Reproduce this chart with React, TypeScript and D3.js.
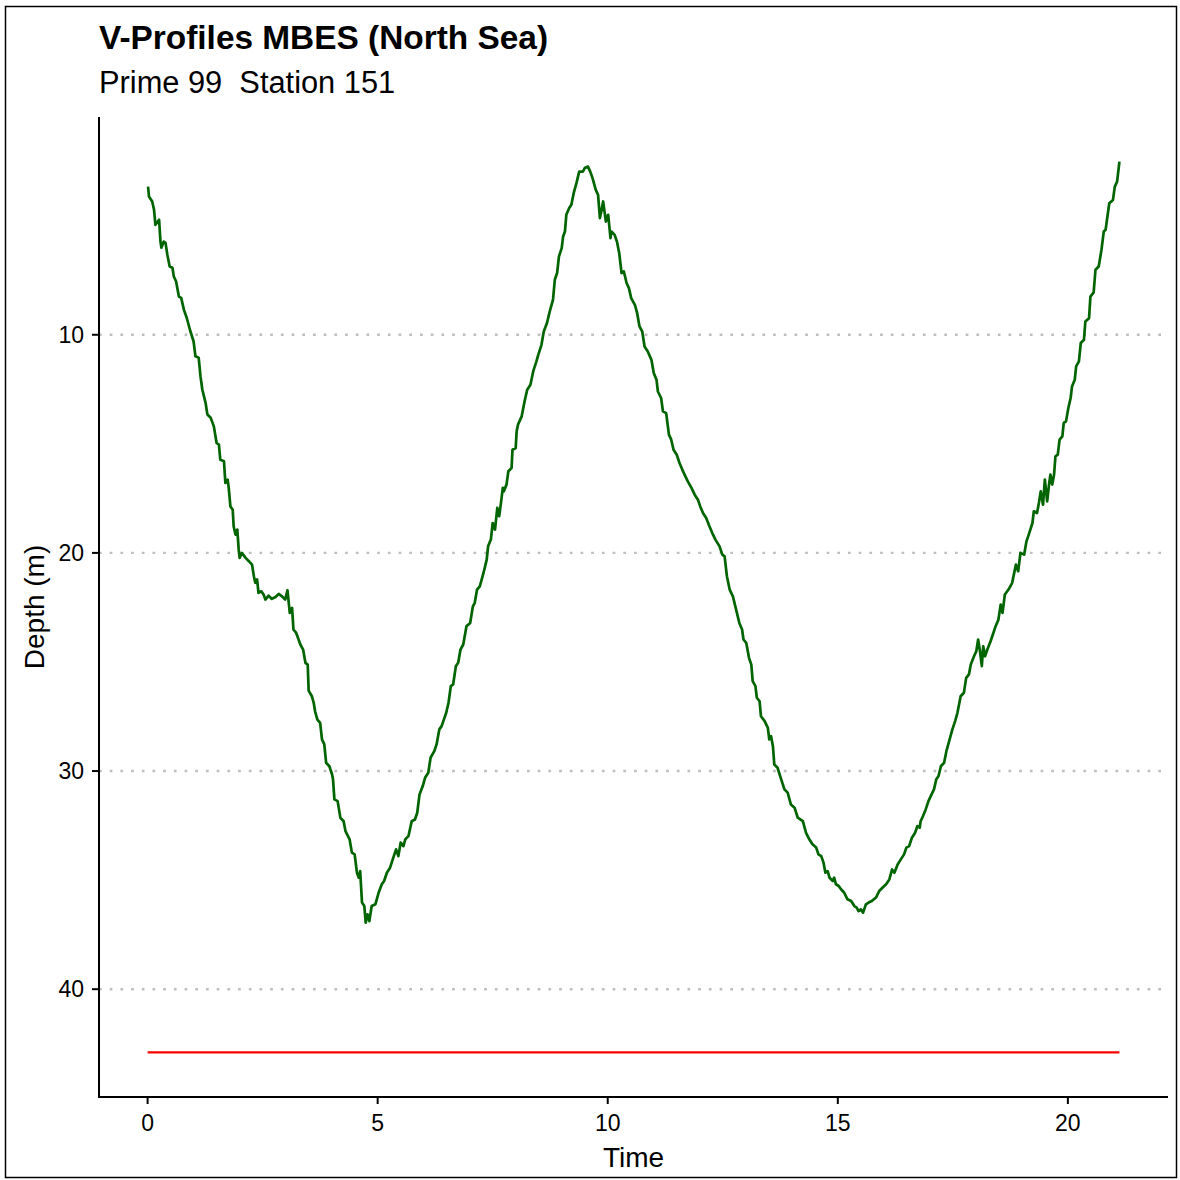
import * as d3 from "d3";

const title = "V-Profiles MBES (North Sea)";
const subtitle = "Prime 99  Station 151";
const xLabel = "Time";
const yLabel = "Depth (m)";

const xTicks = [0, 5, 10, 15, 20];
const yTicks = [10, 20, 30, 40];

// seabed reference (red line)
const seabedDepth = 42.9;
const seabedTime = [0, 21.12];

// MBES track
const time = [
  0.01, 0.03, 0.1, 0.14, 0.17, 0.25, 0.28, 0.3, 0.35, 0.39, 0.43, 0.48, 0.54, 0.57, 0.62, 0.68, 0.73, 0.79, 0.85, 0.92,
  1.0, 1.04, 1.11, 1.15, 1.19, 1.26, 1.3, 1.37, 1.44, 1.5, 1.55, 1.58, 1.66, 1.69, 1.74, 1.76, 1.8, 1.85, 1.87, 1.91,
  1.95, 1.98, 2.0, 2.05, 2.13, 2.2, 2.27, 2.31, 2.34, 2.38, 2.41, 2.47, 2.52, 2.56, 2.63, 2.7, 2.78, 2.85, 2.92, 2.99,
  3.04, 3.09, 3.14, 3.17, 3.23, 3.32, 3.38, 3.43, 3.48, 3.5, 3.57, 3.61, 3.64, 3.69, 3.75, 3.79, 3.84, 3.88, 3.95, 4.01,
  4.03, 4.06, 4.13, 4.19, 4.26, 4.3, 4.39, 4.44, 4.5, 4.55, 4.59, 4.62, 4.66, 4.71, 4.74, 4.78, 4.82, 4.87, 4.95, 5.02,
  5.09, 5.14, 5.2, 5.27, 5.34, 5.4, 5.45, 5.5, 5.56, 5.6, 5.67, 5.74, 5.81, 5.86, 5.91, 5.98, 6.03, 6.1, 6.15, 6.23,
  6.28, 6.34, 6.39, 6.49, 6.54, 6.59, 6.64, 6.7, 6.75, 6.8, 6.86, 6.93, 7.01, 7.07, 7.11, 7.16, 7.22, 7.3, 7.37, 7.4,
  7.46, 7.5, 7.55, 7.6, 7.64, 7.67, 7.72, 7.74, 7.8, 7.84, 7.91, 7.93, 8.0, 8.02, 8.05, 8.13, 8.2, 8.25, 8.32, 8.38,
  8.45, 8.49, 8.56, 8.61, 8.68, 8.74, 8.81, 8.85, 8.9, 8.94, 9.0, 9.03, 9.07, 9.1, 9.16, 9.21, 9.26, 9.32, 9.38, 9.46,
  9.5, 9.57, 9.62, 9.67, 9.74, 9.79, 9.83, 9.86, 9.9, 9.96, 10.01, 10.06, 10.08, 10.15, 10.2, 10.25, 10.3, 10.35, 10.41, 10.46,
  10.51, 10.59, 10.64, 10.69, 10.75, 10.8, 10.87, 10.95, 11.0, 11.06, 11.09, 11.16, 11.2, 11.27, 11.33, 11.38, 11.43, 11.5, 11.56, 11.62,
  11.67, 11.74, 11.82, 11.89, 11.96, 12.01, 12.07, 12.14, 12.21, 12.27, 12.34, 12.43, 12.49, 12.54, 12.59, 12.65, 12.72, 12.79, 12.86, 12.92,
  12.95, 13.01, 13.07, 13.12, 13.15, 13.21, 13.24, 13.3, 13.33, 13.41, 13.48, 13.51, 13.55, 13.59, 13.62, 13.69, 13.77, 13.84, 13.91, 13.98,
  14.06, 14.13, 14.24, 14.31, 14.38, 14.45, 14.53, 14.58, 14.64, 14.69, 14.73, 14.78, 14.82, 14.89, 14.92, 14.96, 15.02, 15.07, 15.14, 15.21,
  15.29, 15.36, 15.41, 15.45, 15.5, 15.55, 15.61, 15.67, 15.74, 15.83, 15.9, 15.97, 16.05, 16.12, 16.18, 16.23, 16.3, 16.37, 16.44, 16.49,
  16.55, 16.61, 16.68, 16.73, 16.78, 16.8, 16.85, 16.91, 16.97, 17.02, 17.09, 17.14, 17.19, 17.24, 17.31, 17.36, 17.42, 17.49, 17.55, 17.6,
  17.67, 17.74, 17.79, 17.85, 17.89, 17.96, 18.01, 18.05, 18.09, 18.13, 18.16, 18.2, 18.25, 18.32, 18.37, 18.43, 18.49, 18.54, 18.58, 18.63,
  18.71, 18.79, 18.87, 18.92, 18.97, 19.05, 19.1, 19.15, 19.23, 19.26, 19.33, 19.37, 19.41, 19.46, 19.5, 19.55, 19.59, 19.62, 19.66, 19.7,
  19.73, 19.78, 19.82, 19.88, 19.91, 19.96, 20.01, 20.06, 20.09, 20.15, 20.18, 20.24, 20.28, 20.35, 20.38, 20.46, 20.49, 20.56, 20.6, 20.67,
  20.73, 20.78, 20.82, 20.85, 20.9, 20.98, 21.02, 21.07, 21.12,
];

const depth = [
  3.21, 3.66, 3.89, 4.27, 4.96, 4.73, 5.73, 6.01, 5.73, 5.79, 6.34, 6.87, 6.93, 7.33, 7.56, 8.25, 8.31, 8.86, 9.22, 9.77,
  10.31, 10.99, 11.05, 11.91, 12.52, 13.12, 13.66, 13.8, 14.2, 14.96, 15.04, 15.73, 15.8, 16.79, 16.64, 16.95, 17.87, 18.02, 18.78, 19.16,
  18.93, 19.85, 20.23, 20.0, 20.23, 20.38, 20.54, 21.07, 21.37, 21.22, 21.83, 21.76, 21.91, 22.14, 21.96, 22.11, 22.02, 21.88, 21.99, 22.14,
  21.71, 22.75, 22.52, 23.51, 23.67, 24.2, 24.43, 25.04, 25.12, 26.31, 26.57, 26.87, 27.26, 27.64, 27.79, 28.55, 28.78, 29.62, 29.78, 30.16,
  30.39, 31.3, 31.38, 32.14, 32.3, 32.75, 33.13, 33.74, 33.82, 34.66, 34.89, 34.59, 36.03, 36.19, 36.95, 36.57, 36.88, 36.19, 36.11, 35.58,
  35.19, 35.04, 34.66, 34.43, 33.97, 33.59, 33.9, 33.28, 33.44, 33.13, 32.98, 32.3, 32.22, 31.91, 31.07, 30.69, 30.31, 30.08, 29.39, 29.09,
  28.78, 28.09, 27.94, 27.33, 26.87, 26.11, 26.03, 25.19, 25.04, 24.43, 24.2, 23.36, 23.21, 22.45, 22.29, 21.68, 21.53, 20.92, 20.31, 19.7,
  19.39, 18.63, 18.93, 17.94, 18.32, 17.87, 17.02, 17.18, 16.87, 16.26, 16.11, 15.27, 15.19, 14.43, 14.12, 13.74, 12.98, 12.52, 12.29, 11.68,
  11.22, 10.92, 10.46, 9.85, 9.46, 8.93, 8.4, 7.48, 7.17, 6.41, 6.03, 5.5, 5.27, 4.5, 4.2, 4.04, 3.51, 3.05, 2.52, 2.52,
  2.36, 2.29, 2.52, 2.82, 3.36, 3.59, 4.65, 4.35, 3.89, 4.81, 4.5, 5.57, 5.27, 5.42, 5.73, 6.26, 7.17, 7.1, 7.63, 7.86,
  8.32, 8.63, 9.01, 9.62, 9.85, 10.54, 10.77, 11.15, 11.75, 12.06, 12.6, 12.9, 13.51, 13.59, 14.58, 14.81, 15.27, 15.5, 15.88, 16.18,
  16.41, 16.72, 17.02, 17.33, 17.56, 17.87, 18.17, 18.4, 18.78, 19.08, 19.39, 19.7, 20.08, 20.16, 21.07, 21.68, 21.99, 22.6, 23.21, 23.51,
  23.97, 24.12, 24.81, 25.12, 25.88, 26.11, 26.64, 26.8, 27.49, 27.71, 28.02, 28.55, 28.4, 28.86, 29.7, 29.85, 30.38, 30.84, 30.99, 31.53,
  31.68, 32.14, 32.3, 32.83, 33.13, 33.36, 33.51, 33.82, 33.9, 34.2, 34.66, 34.59, 34.89, 35.04, 34.89, 35.19, 35.27, 35.42, 35.58, 35.88,
  35.96, 36.19, 36.26, 36.42, 36.34, 36.49, 36.11, 36.03, 35.96, 35.8, 35.5, 35.35, 35.19, 34.97, 34.51, 34.66, 34.28, 34.05, 33.82, 33.51,
  33.44, 33.06, 32.83, 32.52, 32.6, 32.3, 32.07, 31.76, 31.38, 31.15, 30.84, 30.38, 30.23, 29.78, 29.62, 29.09, 28.63, 28.09, 27.71, 27.33,
  26.57, 26.41, 25.73, 25.57, 25.12, 24.74, 24.51, 23.97, 24.51, 25.19, 24.28, 24.74, 24.43, 24.05, 23.74, 23.36, 23.06, 22.37, 22.75, 21.91,
  21.68, 21.37, 20.54, 20.84, 20.0, 20.08, 19.47, 19.16, 18.63, 18.09, 18.17, 17.71, 17.18, 17.79, 16.64, 17.64, 16.87, 16.41, 16.87, 16.41,
  15.57, 15.5, 14.81, 14.66, 14.04, 13.97, 13.36, 12.9, 12.37, 12.06, 11.45, 11.22, 10.38, 10.23, 9.39, 9.24, 8.25, 8.06, 7.02, 6.87,
  6.11, 5.27, 5.19, 4.73, 3.97, 3.82, 3.21, 2.98, 2.06,
];

const W = 1180;
const H = 1180;
const margin = { top: 117, right: 12, bottom: 83, left: 99 };
const font = "'Liberation Sans', Arial, sans-serif";

// ggplot-like 5% expansion
function expand(lo: number, hi: number): [number, number] {
  const pad = (hi - lo) * 0.05;
  return [lo - pad, hi + pad];
}

export default function App() {
  const points = time.map((t, i) => ({ t, d: depth[i] }));
  const left = margin.left;
  const right = W - margin.right;
  const top = margin.top;
  const bottom = H - margin.bottom;

  const tMax = d3.max([...time, ...seabedTime]) as number;
  const tMin = d3.min([...time, ...seabedTime]) as number;
  const dMin = d3.min([...depth, seabedDepth]) as number;
  const dMax = d3.max([...depth, seabedDepth]) as number;

  const x = d3.scaleLinear().domain(expand(tMin, tMax)).range([left, right]);
  const y = d3.scaleLinear().domain(expand(dMin, dMax)).range([top, bottom]);

  const line = d3
    .line<{ t: number; d: number }>()
    .x((p) => x(p.t))
    .y((p) => y(p.d));

  const seabed = d3
    .line<number>()
    .x((t) => x(t))
    .y(() => y(seabedDepth));

  return (
    <svg
      width={W}
      height={H}
      style={{ position: "absolute", left: 0, top: 0, background: "#fff" }}
      fontFamily={font}
    >
      <rect x={5.5} y={6.5} width={1171} height={1171} fill="#fff" stroke="#000" strokeWidth={1.5} />

      {/* gridlines */}
      {yTicks.map((v) => (
        <line
          key={"g" + v}
          x1={left}
          x2={right}
          y1={y(v)}
          y2={y(v)}
          stroke="#bebebe"
          strokeWidth={2.4}
          strokeDasharray="2.7 8"
        />
      ))}

      {/* red seabed */}
      <path d={seabed(seabedTime) || ""} fill="none" stroke="#ff0000" strokeWidth={2.3} />

      {/* profile */}
      <path d={line(points) || ""} fill="none" stroke="#006400" strokeWidth={2.7} strokeLinejoin="round" />

      {/* axes */}
      <line x1={left} x2={left} y1={top} y2={bottom + 1} stroke="#000" strokeWidth={2} />
      <line x1={left - 1} x2={right} y1={bottom} y2={bottom} stroke="#000" strokeWidth={2} />

      {yTicks.map((v) => (
        <g key={"y" + v}>
          <line x1={left - 7} x2={left} y1={y(v)} y2={y(v)} stroke="#000" strokeWidth={2} />
          <text x={left - 15} y={y(v)} dy="0.36em" textAnchor="end" fontSize={23} fill="#000">
            {v}
          </text>
        </g>
      ))}
      {xTicks.map((v) => (
        <g key={"x" + v}>
          <line x1={x(v)} x2={x(v)} y1={bottom} y2={bottom + 7} stroke="#000" strokeWidth={2} />
          <text x={x(v)} y={bottom + 34} textAnchor="middle" fontSize={23} fill="#000">
            {v}
          </text>
        </g>
      ))}

      <text x={(left + right) / 2} y={1167} textAnchor="middle" fontSize={28} fill="#000">
        {xLabel}
      </text>
      <text
        transform={`translate(44,${(top + bottom) / 2}) rotate(-90)`}
        textAnchor="middle"
        fontSize={28}
        fill="#000"
      >
        {yLabel}
      </text>

      <text x={99} y={49} fontSize={33.4} fontWeight="bold" fill="#000">
        {title}
      </text>
      <text x={99} y={93} fontSize={30.8} fill="#000" style={{ whiteSpace: "pre" }}>
        {subtitle}
      </text>
    </svg>
  );
}
